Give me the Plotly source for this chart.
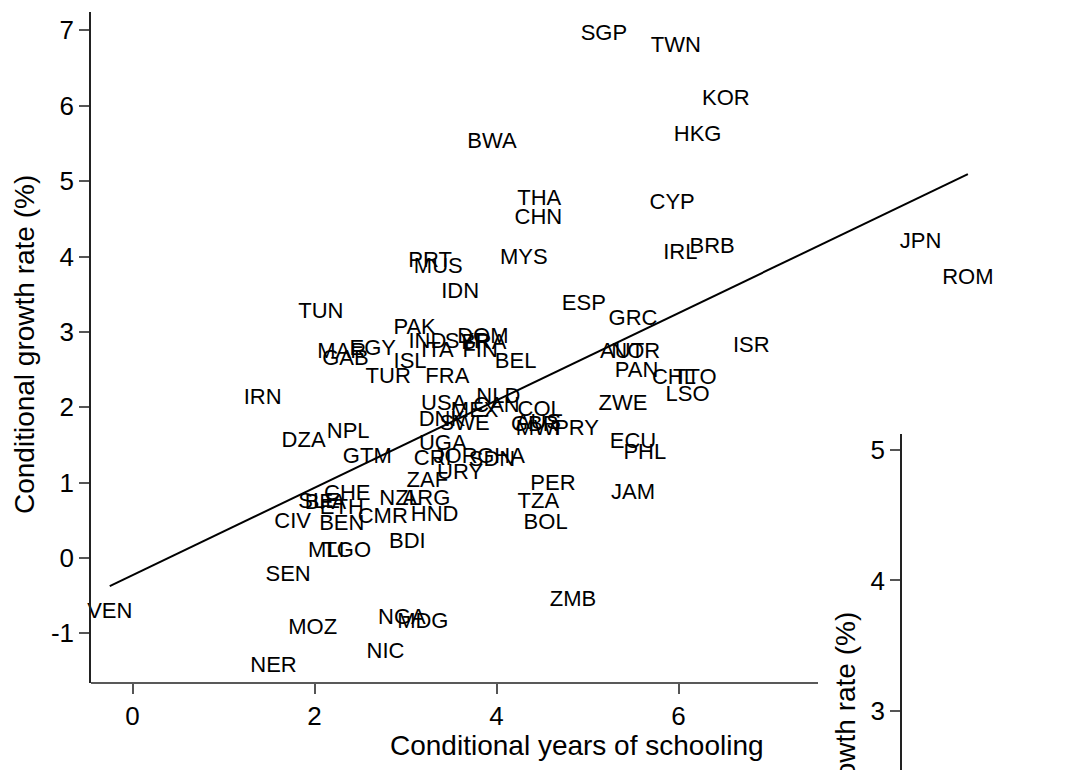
import plotly.graph_objects as go

# ---- data (label centres) ----
countries = ["SGP","TWN","KOR","HKG","BWA","THA","CHN","CYP","IRL","BRB","JPN","ROM",
             "PRT","MUS","MYS","IDN","ESP","TUN","GRC","PAK","IND","ITA","SYR","DOM","BRA","FIN",
             "MAR","EGY","GAB","ISL","TUR","FRA","BEL","AUT","NOR","ISR","PAN","CHL","TTO","LSO",
             "IRN","ZWE","NLD","USA","CAN","MEX","DNK","SWE","COL","AUS","GBR","MWI","PRY",
             "UGA","CRI","JOR","GHA","SDN","URY","ZAF","PER","TZA","BOL","JAM","ECU","PHL",
             "DZA","NPL","GTM","CHE","SLE","BFA","ETH","CMR","NZL","ARG","HND","CIV","BEN","BDI",
             "MLI","TGO","SEN","VEN","MOZ","NGA","MDG","NIC","NER","ZMB"]
schooling = [5.18,5.97,6.52,6.21,3.95,4.47,4.46,5.93,6.02,6.37,8.66,9.18,
             3.27,3.36,4.30,3.60,4.96,2.07,5.50,3.10,3.24,3.35,3.68,3.85,3.86,3.82,
             2.30,2.64,2.34,3.05,2.81,3.46,4.21,5.38,5.53,6.80,5.54,5.95,6.18,6.10,
             1.43,5.39,4.02,3.42,4.00,3.76,3.40,3.65,4.48,4.46,4.42,4.46,4.88,
             3.41,3.30,3.55,4.05,3.95,3.60,3.24,4.62,4.46,4.54,5.50,5.50,5.63,
             1.88,2.37,2.58,2.36,2.05,2.12,2.30,2.75,2.94,3.23,3.32,1.76,2.30,3.02,
             2.13,2.36,1.71,-0.25,1.98,2.96,3.19,2.78,1.55,4.84]
growth = [6.94,6.78,6.08,5.61,5.51,4.76,4.51,4.70,4.04,4.12,4.18,3.71,
          3.94,3.86,3.98,3.52,3.36,3.26,3.16,3.05,2.86,2.74,2.86,2.92,2.84,2.74,
          2.73,2.76,2.64,2.59,2.40,2.40,2.60,2.73,2.73,2.80,2.47,2.38,2.38,2.16,
          2.12,2.03,2.13,2.03,2.01,1.95,1.83,1.77,1.96,1.78,1.76,1.70,1.71,
          1.50,1.31,1.33,1.34,1.30,1.12,1.01,0.97,0.74,0.46,0.85,1.53,1.39,
          1.54,1.67,1.33,0.84,0.74,0.72,0.66,0.54,0.77,0.77,0.56,0.47,0.44,0.20,
          0.08,0.08,-0.23,-0.72,-0.93,-0.80,-0.86,-1.25,-1.44,-0.56]

fit_intercept = -0.228
fit_slope = 0.5796

x_ticks = [0, 2, 4, 6]
y_ticks = [-1, 0, 1, 2, 3, 4, 5, 6, 7]
y2_ticks = [3, 4, 5]

# page has an 8px body margin: the figure is drawn 8px in from the window corner
OFF = 8
W, H = 1071 - OFF, 770 - OFF
FONT = "Liberation Sans, Arial, sans-serif"

def px_x(p):
    return (p - OFF) / W

def px_y(p):
    return 1 - (p - OFF) / H

x_lo, x_hi = min(schooling), max(schooling)

fig = go.Figure()
fig.add_trace(go.Scatter(
    x=[x_lo, x_hi],
    y=[fit_intercept + fit_slope * x_lo, fit_intercept + fit_slope * x_hi],
    mode="lines", line=dict(color="black", width=2), hoverinfo="skip", showlegend=False))
fig.add_trace(go.Scatter(
    x=schooling, y=growth, text=countries, mode="text",
    textposition="middle center",
    textfont=dict(family=FONT, size=22, color="black"),
    showlegend=False, cliponaxis=False))
# trace for the partially visible second panel axis
fig.add_trace(go.Scatter(x=[None], y=[None], xaxis="x2", yaxis="y2",
                         mode="markers", showlegend=False))

main_left, main_right = 91, 1063
main_top, main_bottom = 12, 683

fig.update_layout(
    width=W, height=H,
    margin=dict(l=0, r=0, t=0, b=0),
    paper_bgcolor="white", plot_bgcolor="white",
    font=dict(family=FONT, color="black"),
    xaxis=dict(domain=[px_x(main_left), min(1.0, px_x(main_right))],
               range=[(main_left - 132.5) / 91.0, (main_right - 132.5) / 91.0],
               tickvals=x_ticks, ticktext=[str(v) for v in x_ticks],
               ticks="outside", ticklen=10, tickwidth=1.5, tickcolor="#555555",
               tickfont=dict(size=26, family=FONT), showline=False,
               showgrid=False, zeroline=False, anchor="y"),
    yaxis=dict(domain=[px_y(main_bottom), px_y(main_top)],
               range=[(558 - main_bottom) / 75.375, (558 - main_top) / 75.375],
               tickvals=y_ticks, ticktext=[str(v) for v in y_ticks],
               ticks="outside", ticklen=10, tickwidth=1.5, tickcolor="#555555",
               tickfont=dict(size=26, family=FONT), showline=True,
               linecolor="#222222", linewidth=1.5,
               showgrid=False, zeroline=False, anchor="x"),
    xaxis2=dict(domain=[px_x(902), 1.0], range=[0, 1], visible=False, anchor="y2"),
    yaxis2=dict(domain=[0, px_y(434)],
                range=[5 - (762 - 450) / 127.0, 5 + (450 - 434) / 127.0],
                tickvals=y2_ticks, ticktext=[str(v) for v in y2_ticks],
                ticks="outside", ticklen=10, tickwidth=1.5, tickcolor="#555555",
                tickfont=dict(size=26, family=FONT), showline=True,
                linecolor="#222222", linewidth=1.5,
                showgrid=False, zeroline=False, anchor="x2", side="left"),
)

# x axis line of the main panel (partly hidden behind the second panel)
fig.add_shape(type="line", xref="paper", yref="paper",
              x0=px_x(main_left), x1=px_x(818), y0=px_y(main_bottom), y1=px_y(main_bottom),
              line=dict(color="#222222", width=1.5))

fig.add_annotation(text="Conditional years of schooling", xref="paper", yref="paper",
                   x=px_x(577), y=px_y(745), showarrow=False,
                   xanchor="center", yanchor="middle",
                   font=dict(size=28, family=FONT, color="black"))
fig.add_annotation(text="Conditional growth rate (%)", xref="paper", yref="paper",
                   x=px_x(24), y=px_y(345), showarrow=False, textangle=-90,
                   xanchor="center", yanchor="middle",
                   font=dict(size=28, family=FONT, color="black"))
fig.add_annotation(text="Conditional growth rate (%)", xref="paper", yref="paper",
                   x=px_x(845), y=px_y(782), showarrow=False, textangle=-90,
                   xanchor="center", yanchor="middle",
                   font=dict(size=28, family=FONT, color="black"))

fig.write_html("out.html")
